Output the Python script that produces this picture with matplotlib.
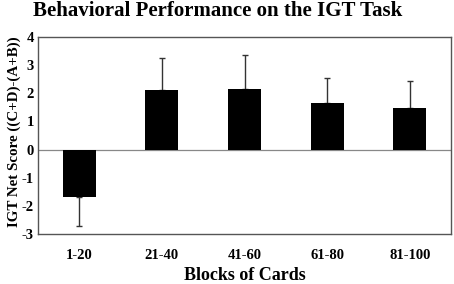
import matplotlib
matplotlib.use("Agg")
import matplotlib.pyplot as plt

categories = ["1-20", "21-40", "41-60", "61-80", "81-100"]
values = [-1.70, 2.13, 2.17, 1.67, 1.46]
errors = [1.01, 1.12, 1.19, 0.88, 0.99]
yticks = [-3, -2, -1, 0, 1, 2, 3, 4]

plt.rcParams['font.family'] = ['Liberation Serif', 'DejaVu Serif']
plt.rcParams['font.weight'] = 'bold'

fig = plt.figure(figsize=(4.54, 2.84), dpi=100)
W, H = 454, 284
ax = fig.add_axes([38 / W, 1 - 234 / H, (451 - 38) / W, (234 - 37) / H])

x = list(range(len(categories)))
ax.bar(x, values, width=0.4, color='black', zorder=3)
lower = [e if v < 0 else 0 for v, e in zip(values, errors)]
upper = [e if v >= 0 else 0 for v, e in zip(values, errors)]
ax.errorbar(x, values, yerr=[lower, upper], fmt='none', ecolor='#333333',
            elinewidth=1, capsize=2.5, capthick=1, zorder=2)
ax.axhline(0, color='#888888', lw=0.9, zorder=1)

ax.set_xlim(-0.5, len(categories) - 0.5)
ax.set_ylim(-3, 4)
ax.set_yticks(yticks)
ax.set_yticklabels([str(t) for t in yticks], fontsize=10.5, fontweight='bold')
ax.set_xticks(x)
ax.set_xticklabels(categories, fontsize=10.5, fontweight='bold')
ax.tick_params(length=0)
ax.tick_params(axis='y', pad=3)
ax.tick_params(axis='x', pad=11)
for s in ax.spines.values():
    s.set_color('#555555')
    s.set_linewidth(1)

fig.text(218 / W, 1 - 11 / H, "Behavioral Performance on the IGT Task",
         ha='center', va='center', fontsize=15, fontweight='bold')
fig.text(245 / W, 1 - 275 / H, "Blocks of Cards",
         ha='center', va='center', fontsize=13, fontweight='bold')
fig.text(14 / W, 1 - 132 / H, "IGT Net Score ((C+D)-(A+B))", rotation=90,
         ha='center', va='center', fontsize=10.8, fontweight='bold')

fig.savefig("out.png", dpi=100)
